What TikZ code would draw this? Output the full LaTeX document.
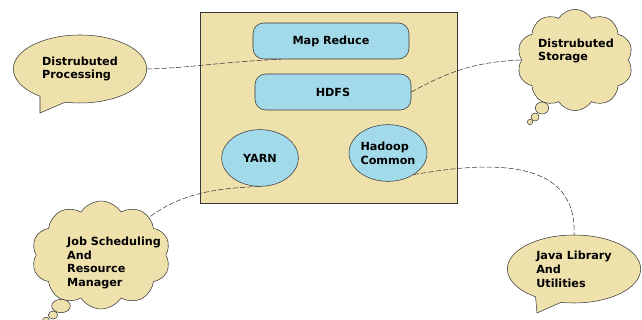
\documentclass[tikz,border=0pt]{standalone}
\usepackage{fontspec}
\setmainfont{DejaVu Sans}
\usepackage{tikz}
\usetikzlibrary{shapes.symbols,shapes.callouts,shapes.geometric}

\definecolor{sand}{RGB}{239,225,172}
\definecolor{skyblue}{RGB}{163,218,234}
\definecolor{edge}{RGB}{55,55,55}

\tikzset{
  lbl/.style={font=\bfseries\fontsize{8.4}{10.4}\selectfont, align=left, inner sep=0pt},
  part/.style={draw=edge, fill=skyblue, lbl},
  layer/.style={part, rounded corners=8pt, minimum width=117pt, minimum height=27pt},
  round/.style={part, ellipse, inner sep=0pt},
  bubble/.style={draw=edge, fill=sand, lbl, ellipse callout, callout pointer arc=24,
    minimum width=100pt, minimum height=51pt},
  thought/.style={draw=edge, fill=sand, cloud, cloud puffs=10, cloud puff arc=115,
    cloud ignores aspect},
  puff/.style={draw=edge, fill=sand, ellipse, inner sep=0pt},
  link/.style={draw=edge, thin, dash pattern=on 4pt off 1.5pt}
}

\begin{document}
\begin{tikzpicture}[x=0.75pt,y=-0.75pt]
\useasboundingbox (0,0) rectangle (642,320);

% hadoop frame
\draw[draw=edge, fill=sand] (200,12) rectangle (457,203);

% draw parts
\node[layer] (mapreduce) at (331,41) {Map\,\,Reduce};
\node[layer] (hdfs) at (333,92) {HDFS};
\node[round, minimum width=57.5pt, minimum height=42.5pt] (yarn) at (260,158) {YARN};
\node[round, minimum width=58.5pt, minimum height=42.5pt] (common) at (388,153) {Hadoop\\Common};

% draw speech bubbles
\node[bubble, callout absolute pointer={(40,113)}] (procbubble) at (80,69) {Distrubuted\\Processing};
\node[bubble, callout absolute pointer={(537,313)}] (javabubble) at (574,269) {Java Library\\And\\Utilities};

% draw clouds
\node[thought, minimum width=87pt, minimum height=76pt] (storecloud) at (575,60) {};
\node[lbl] (storetext) at (576,51) {Distrubuted\\Storage};
\node[puff, minimum width=10pt, minimum height=9pt] (sa) at (542,108) {};
\node[puff, minimum width=6pt, minimum height=6pt] (sb) at (535,117) {};
\node[puff, minimum width=4pt, minimum height=4pt] (sc) at (530,122) {};

\node[thought, minimum width=104pt, minimum height=81pt] (jobcloud) at (101,255) {};
\node[lbl] (jobtext) at (114,263) {Job Scheduling\\And\\Resource\\Manager};
\node[puff, minimum width=14pt, minimum height=10pt] (ja) at (61,306) {};
\node[puff, minimum width=7pt, minimum height=6pt] (jb) at (53,315) {};
\node[puff, minimum width=5pt, minimum height=4pt] (jc) at (46,320) {};

% draw links
\draw[link] (procbubble.east) .. controls (190,68) and (220,62) .. (mapreduce.200);
\draw[link] (hdfs.east) .. controls (445,74) and (470,62) .. (storecloud.west);
\draw[link] (yarn.south) .. controls (205,188) and (175,198) .. (jobcloud.38);
\draw[link] (common.-40) .. controls (470,165) and (578,150) .. (javabubble.north);

\end{tikzpicture}
\end{document}
